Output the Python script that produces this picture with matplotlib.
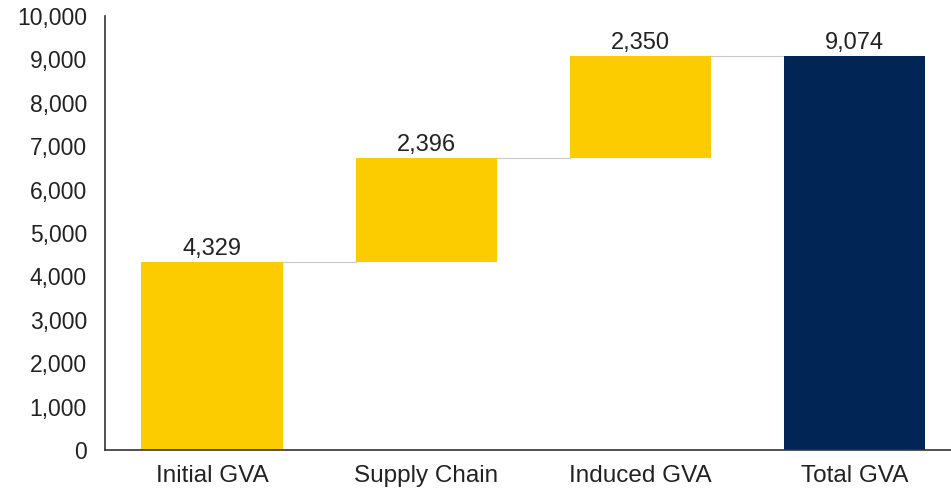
import matplotlib.pyplot as plt
import numpy as np

plt.rcParams['font.family'] = ['Liberation Sans', 'DejaVu Sans']

# data
categories = ["Initial GVA", "Supply Chain", "Induced GVA", "Total GVA"]
steps = [4329, 2396, 2350]
total = 9074
yticks = list(range(0, 10001, 1000))

bottoms = [0] + list(np.cumsum(steps)[:-1])
heights = steps + [total]
bases = bottoms + [0]
colors = ["#FCCC00"] * 3 + ["#012555"]

fig = plt.figure(figsize=(9.51, 4.96), dpi=100)
ax = fig.add_axes([105 / 951, 46 / 496, 846 / 951, 434 / 496])

x = np.arange(len(categories))
width = 0.66
ax.bar(x, heights, width, bottom=bases, color=colors, zorder=2)

# connectors
tops = [b + h for b, h in zip(bases, heights)]
for i in range(len(steps)):
    ax.plot([x[i] + width / 2, x[i + 1] - width / 2], [tops[i], tops[i]],
            color="#c8c8c8", lw=0.8, zorder=1)

# value labels
labels = steps + [total]
for xi, top, v in zip(x, tops, labels):
    ax.text(xi, top + 60, f"{v:,}", ha="center", va="bottom", fontsize=17, color="#222222")

ax.set_xlim(-0.5, 3.45)
ax.set_ylim(0, 10000)
ax.set_yticks(yticks)
ax.set_yticklabels([f"{t:,}" for t in yticks])
ax.set_xticks(x)
ax.set_xticklabels(categories)
ax.tick_params(axis="y", length=0, pad=13, labelsize=16.5, colors="#222222")
ax.tick_params(axis="x", length=0, pad=11, labelsize=17.5, colors="#222222")
for s in ["top", "right"]:
    ax.spines[s].set_visible(False)
for s in ["left", "bottom"]:
    ax.spines[s].set_color("#333333")
    ax.spines[s].set_linewidth(1.2)

fig.savefig("out.png", dpi=100)
